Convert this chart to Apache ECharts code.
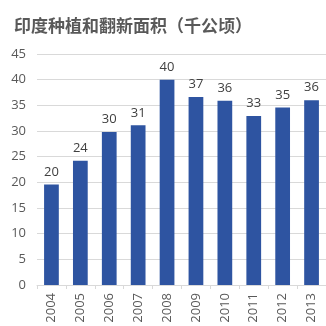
<!DOCTYPE html>
<html>
<head>
<meta charset="utf-8">
<script src="https://cdn.jsdelivr.net/npm/echarts@6/dist/echarts.min.js"></script>
<style>
html,body{margin:0;padding:0;background:#fff;}
#c{width:326px;height:326px;}
</style>
</head>
<body>
<div id="c"></div>
<script>
// Planting and replanting area in India, thousand hectares
const years = ['2004','2005','2006','2007','2008','2009','2010','2011','2012','2013'];
const area = [19.6, 24.2, 29.8, 31.1, 40.0, 36.6, 35.9, 32.9, 34.6, 36.0];
const yTicks = { min: 0, max: 45, interval: 5 };

const chart = echarts.init(document.getElementById('c'));
chart.setOption({
  animation: false,
  backgroundColor: '#ffffff',
  title: {
    text: '印度种植和翻新面积（千公顷）',
    left: 9, top: 12,
    textStyle: { fontSize: 17, fontWeight: 'bold', color: '#595959', fontFamily: 'Noto Sans CJK SC' }
  },
  grid: { left: 37, right: -7, top: 54, bottom: 41, containLabel: false },
  xAxis: {
    type: 'category',
    data: years,
    axisLine: { lineStyle: { color: '#d9d9d9' } },
    axisTick: { show: true, alignWithLabel: false, length: 4, lineStyle: { color: '#d9d9d9' } },
    axisLabel: { rotate: 90, color: '#595959', fontSize: 13, margin: 8, fontFamily: 'Open Sans' }
  },
  yAxis: {
    type: 'value',
    min: yTicks.min, max: yTicks.max, interval: yTicks.interval,
    axisLine: { show: false },
    axisTick: { show: false },
    splitLine: { lineStyle: { color: '#d9d9d9' } },
    axisLabel: { color: '#595959', fontSize: 13, margin: 11, fontFamily: 'Open Sans' }
  },
  series: [{
    type: 'bar',
    data: area,
    barWidth: '51%',
    itemStyle: { color: '#2e54a1' },
    label: {
      show: true, position: 'top', distance: 6,
      color: '#404040', fontSize: 13, fontFamily: 'Open Sans',
      formatter: p => Math.round(p.value)
    }
  }]
});
</script>
</body>
</html>
